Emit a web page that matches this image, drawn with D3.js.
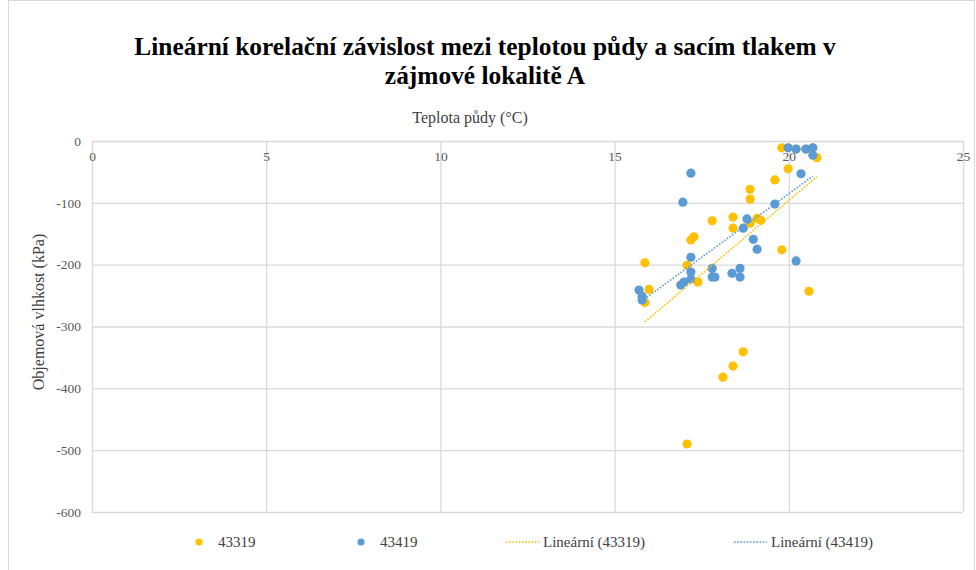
<!DOCTYPE html>
<html>
<head>
<meta charset="utf-8">
<script src="https://cdn.jsdelivr.net/npm/d3@7"></script>
<style>
  body { margin: 0; background: #fff; }
  svg { display: block; font-family: "Liberation Serif", "Times New Roman", serif; }
</style>
</head>
<body>
<div id="chart"></div>
<script>
// teplota (°C) / hodnota (kPa)
// (last three orange points sit under blue ones at the top right)
const tempA = [19.80, 20.81, 19.98, 19.60, 18.89, 18.89, 17.80, 18.40, 18.40, 18.89, 19.09, 19.20,
  17.19, 17.28, 19.80, 15.87, 17.08, 15.99, 15.87, 17.39, 20.58, 18.69, 18.40, 18.11, 17.08,
  20.21, 20.49, 20.69];
const valA = [-11, -27, -45, -63, -78, -94, -129, -123, -141, -133, -125, -128,
  -160, -155, -176, -197, -201, -240, -261, -228, -243, -341, -364, -382, -490,
  -13, -13, -11];

const tempB = [19.98, 20.21, 20.49, 20.69, 20.69, 20.35, 17.19, 16.96, 19.60, 18.80, 18.69, 18.98,
  19.09, 17.19, 20.21, 17.19, 17.80, 17.19, 16.99, 16.90, 17.80, 17.88, 18.37, 18.60, 18.60,
  15.70, 15.79, 15.79];
const valB = [-11, -13, -13, -11, -23, -53, -52, -99, -102, -126, -141, -159,
  -175, -188, -194, -212, -206, -223, -228, -233, -220, -220, -214, -206, -220,
  -241, -251, -257];

const seriesNames = ["43319", "43419"];
const xTicks = [0, 5, 10, 15, 20, 25];
const yTicks = [0, -100, -200, -300, -400, -500, -600];

const orange = "#FFC000", blue = "#5B9BD5";

const width = 976, height = 570;
const plot = { left: 92, right: 963, top: 141, bottom: 512 };

const svg = d3.select("#chart").append("svg")
    .attr("width", width)
    .attr("height", height);

// chart border
svg.append("rect")
    .attr("x", 8.5).attr("y", 0.5)
    .attr("width", 966).attr("height", 580)
    .attr("fill", "none")
    .attr("stroke", "#d9d9d9");

const xScale = d3.scaleLinear().domain([0, 25]).range([plot.left, plot.right]);
const yScale = d3.scaleLinear().domain([-600, 0]).range([plot.bottom, plot.top]);

// gridlines
svg.append("g")
    .selectAll("line")
    .data(yTicks)
    .join("line")
    .attr("x1", plot.left).attr("x2", plot.right)
    .attr("y1", d => yScale(d) + 0.5).attr("y2", d => yScale(d) + 0.5)
    .attr("stroke", "#d9d9d9").attr("stroke-width", 1.3);

svg.append("g")
    .selectAll("line")
    .data(xTicks)
    .join("line")
    .attr("x1", d => xScale(d) + 0.5).attr("x2", d => xScale(d) + 0.5)
    .attr("y1", plot.top).attr("y2", plot.bottom)
    .attr("stroke", "#d9d9d9").attr("stroke-width", 1.3);

// axes (labels only)
const xAxis = svg.append("g")
    .attr("transform", `translate(0, ${plot.top})`)
    .call(d3.axisBottom(xScale).tickValues(xTicks).tickSize(0).tickPadding(10)
      .tickFormat(d => String(d)));
const yAxis = svg.append("g")
    .attr("transform", `translate(${plot.left - 11}, 0)`)
    .call(d3.axisLeft(yScale).tickValues(yTicks).tickSize(0).tickPadding(0)
      .tickFormat(d => String(d)));

[xAxis, yAxis].forEach(g => {
  g.select(".domain").remove();
  g.selectAll("text")
      .attr("fill", "#595959")
      .style("font-size", "13.5px")
      .style("font-family", "Liberation Serif, serif");
});

// trendlines (least squares, drawn over data range like Excel)
function trend(xs, ys) {
  const mx = d3.mean(xs), my = d3.mean(ys);
  const b = d3.sum(xs, (x, i) => (x - mx) * (ys[i] - my)) / d3.sum(xs, x => (x - mx) ** 2);
  const a = my - b * mx;
  const [x0, x1] = d3.extent(xs);
  return [[x0, a + b * x0], [x1, a + b * x1]];
}

const line = d3.line().x(d => xScale(d[0])).y(d => yScale(d[1]));

// points
function drawPoints(xs, ys, color) {
  svg.append("g")
      .selectAll("circle")
      .data(xs.map((x, i) => [x, ys[i]]))
      .join("circle")
      .attr("cx", d => xScale(d[0]))
      .attr("cy", d => yScale(d[1]))
      .attr("r", 4.6)
      .attr("fill", color);
}
drawPoints(tempA, valA, orange);
drawPoints(tempB, valB, blue);

svg.append("path")
    .attr("d", line(trend(tempA, valA)))
    .attr("fill", "none").attr("stroke", orange)
    .attr("stroke-width", 1.6).attr("stroke-dasharray", "1.6,1.6");
svg.append("path")
    .attr("d", line(trend(tempB, valB)))
    .attr("fill", "none").attr("stroke", blue)
    .attr("stroke-width", 1.6).attr("stroke-dasharray", "1.6,1.6");

// titles
const title = svg.append("text")
    .attr("text-anchor", "middle")
    .attr("font-weight", "bold")
    .style("font-size", "25.4px")
    .attr("fill", "#000");
title.append("tspan").attr("x", 485).attr("y", 55)
    .text("Lineární korelační závislost mezi teplotou půdy a sacím tlakem v");
title.append("tspan").attr("x", 485).attr("y", 84)
    .text("zájmové lokalitě A");

svg.append("text")
    .attr("x", 470).attr("y", 123)
    .attr("text-anchor", "middle")
    .style("font-size", "16px")
    .attr("fill", "#404040")
    .text("Teplota půdy (°C)");

svg.append("text")
    .attr("transform", `translate(44, 312) rotate(-90)`)
    .attr("text-anchor", "middle")
    .style("font-size", "16px")
    .attr("fill", "#404040")
    .text("Objemová vlhkost (kPa)");

// legend
const legendY = 542;
const legend = svg.append("g").style("font-size", "15px").attr("fill", "#404040");
[[199, orange], [361, blue]].forEach(([x, c], i) => {
  legend.append("circle").attr("cx", x).attr("cy", legendY).attr("r", 3.6).attr("fill", c);
  legend.append("text").attr("x", x + 19).attr("y", legendY + 5).text(seriesNames[i]);
});
[[506, orange], [734, blue]].forEach(([x, c], i) => {
  legend.append("line")
      .attr("x1", x).attr("x2", x + 33)
      .attr("y1", legendY).attr("y2", legendY)
      .attr("stroke", c).attr("stroke-width", 1.6).attr("stroke-dasharray", "1.6,1.6");
  legend.append("text").attr("x", x + 37).attr("y", legendY + 5)
      .text(`Lineární (${seriesNames[i]})`);
});
</script>
</body>
</html>
